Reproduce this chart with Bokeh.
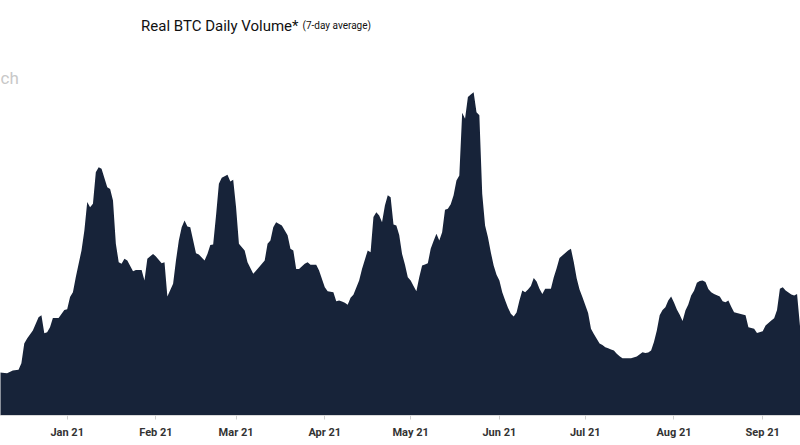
from datetime import datetime, timedelta

from bokeh.plotting import figure
from bokeh.models import ColumnDataSource, Range1d, FixedTicker, DatetimeTickFormatter, Label
from bokeh.embed import file_html
from bokeh.resources import INLINE

# ---- data (7-day average of real BTC daily volume; arbitrary units ~ $B) ----
dec_days = [8, 11, 13, 15, 16, 17, 18, 20, 22, 23, 24, 25, 26, 27, 29, 30, 31]
dec_vals = [1.35, 1.32, 1.41, 1.43, 1.63, 2.25, 2.41, 2.66, 3.07, 3.13, 2.57, 2.60, 2.76, 3.05, 3.05, 3.17, 3.30]

jan_days = [1, 2, 3, 4, 6, 7, 8, 9, 10, 11, 12, 13, 15, 16, 17, 18, 19, 20, 21, 22, 24, 25, 27, 28, 29, 31]
jan_vals = [3.32, 3.70, 3.85, 4.32, 5.16, 5.78, 6.67, 6.51, 6.62, 7.60, 7.76, 7.71, 7.13, 7.08, 6.72, 5.37,
            4.79, 4.74, 4.90, 4.84, 4.51, 4.55, 4.55, 4.22, 4.90, 5.05]

feb_days = [1, 3, 4, 5, 7, 8, 9, 10, 11, 12, 13, 15, 16, 18, 19, 20, 21, 22, 23, 24, 25, 26, 27, 28]
feb_vals = [4.97, 4.76, 4.79, 3.72, 4.12, 4.84, 5.47, 5.88, 6.09, 5.91, 5.88, 5.07, 5.03, 4.84, 5.05, 5.33,
            5.34, 6.25, 7.24, 7.43, 7.48, 7.52, 7.31, 7.37]

mar_days = [1, 2, 4, 5, 7, 9, 11, 12, 13, 14, 15, 17, 19, 20, 21, 22, 23, 25, 26, 27, 29, 30]
mar_vals = [6.51, 5.37, 5.16, 4.79, 4.43, 4.63, 4.84, 5.37, 5.47, 5.88, 6.04, 5.94, 5.63, 5.21, 5.16, 4.58,
            4.58, 4.74, 4.79, 4.71, 4.71, 4.53]

apr_days = [1, 2, 4, 5, 6, 7, 8, 9, 10, 11, 13, 14, 16, 17, 18, 19, 20, 21, 22, 23, 24, 25, 26, 27, 28, 29, 30]
apr_vals = [4.01, 3.88, 3.85, 3.57, 3.59, 3.56, 3.52, 3.46, 3.68, 3.77, 4.22, 4.58, 5.16, 5.10, 6.20, 6.35,
            6.25, 6.04, 6.56, 6.88, 6.82, 5.97, 5.94, 5.64, 5.05, 4.72, 4.32]

may_days = list(range(1, 32))
may_vals = [4.22, 4.05, 3.88, 4.32, 4.69, 4.72, 4.76, 5.21, 5.45, 5.68,
            5.47, 5.73, 6.43, 6.46, 6.60, 6.88, 7.34, 7.50, 9.46, 9.27,
            9.95, 10.03, 10.10, 9.48, 9.38, 6.93, 5.94, 5.57, 5.10, 4.69, 4.40]

jun_days = list(range(1, 31))
jun_vals = [4.22, 3.85, 3.60, 3.37, 3.18, 3.09, 3.22, 3.59, 3.91, 3.85,
            3.94, 4.05, 4.30, 4.19, 3.96, 3.80, 3.96, 3.96, 3.96, 4.32,
            4.60, 4.92, 5.00, 5.08, 5.16, 5.21, 4.79, 4.29, 3.94, 3.70]

jul_days = list(range(1, 18)) + [19] + list(range(21, 32))
jul_vals = [3.45, 3.20, 2.71, 2.55, 2.40, 2.25, 2.20, 2.13, 2.10, 2.06, 2.03, 1.93, 1.85, 1.79, 1.79, 1.79, 1.79,
            1.84,
            1.98, 1.95, 1.97, 2.03, 2.30, 2.66, 3.13, 3.30, 3.38, 3.59, 3.72]

aug_days = list(range(1, 16)) + [17, 18, 19, 20, 21, 22, 24, 26, 27, 29, 30]
aug_vals = [3.53, 3.31, 3.15, 2.95, 3.28, 3.47, 3.75, 3.90, 4.15, 4.20, 4.22, 4.17, 3.95, 3.85, 3.80,
            3.72, 3.57, 3.54, 3.59, 3.40, 3.23, 3.18, 3.13, 2.76, 2.71, 2.58]

sep_days = [1, 2, 4, 5, 6, 7, 8, 9, 11, 12, 13, 14, 15]
sep_vals = [2.63, 2.81, 2.97, 3.04, 3.30, 3.96, 4.01, 3.91, 3.78, 3.75, 3.80, 2.81, 2.60]

tick_months = ["2021-01-01", "2021-02-01", "2021-03-01", "2021-04-01", "2021-05-01",
               "2021-06-01", "2021-07-01", "2021-08-01", "2021-09-01"]

# ---- build series ----
parts = [((2020, 12), dec_days, dec_vals), ((2021, 1), jan_days, jan_vals), ((2021, 2), feb_days, feb_vals),
         ((2021, 3), mar_days, mar_vals), ((2021, 4), apr_days, apr_vals), ((2021, 5), may_days, may_vals),
         ((2021, 6), jun_days, jun_vals), ((2021, 7), jul_days, jul_vals), ((2021, 8), aug_days, aug_vals),
         ((2021, 9), sep_days, sep_vals)]
dates, vals = [], []
for (yr, mo), days, vs in parts:
    for d, v in zip(days, vs):
        dates.append(datetime(yr, mo, d))
        vals.append(v)

src = ColumnDataSource(data=dict(date=dates, val=vals))

jan1 = datetime(2021, 1, 1)
x_start = jan1 - timedelta(days=23.3)
x_end = jan1 + timedelta(days=256.2)

p = figure(width=800, height=445, x_axis_type="datetime", y_axis_location=None,
           output_backend="svg", toolbar_location=None,
           x_range=Range1d(x_start, x_end), y_range=Range1d(0, 415 / 32),
           min_border_left=0, min_border_right=0, min_border_top=0, min_border_bottom=30)
p.outline_line_color = None
p.background_fill_color = "white"
p.border_fill_color = "white"
p.grid.visible = False

p.varea(x="date", y1=0, y2="val", source=src, fill_color="#172339")

epoch = datetime(1970, 1, 1)
ticks = [(datetime.strptime(t, "%Y-%m-%d") - epoch).total_seconds() * 1000 for t in tick_months]
ax = p.xaxis[0]
ax.ticker = FixedTicker(ticks=ticks)
ax.formatter = DatetimeTickFormatter(months="%b %y", days="%b %y", years="%b %y")
ax.axis_line_color = "#d9d9d9"
ax.major_tick_line_color = "#cfcfcf"
ax.major_tick_in = 0
ax.major_tick_out = 4
ax.minor_tick_line_color = None
ax.major_label_standoff = 6
ax.major_label_text_font = "Roboto"
ax.major_label_text_font_size = "11px"
ax.major_label_text_font_style = "bold"
ax.major_label_text_color = "#333333"

title = Label(x=298, y=390, x_units="screen", y_units="screen", text="Real BTC Daily Volume*",
              text_font="Roboto", text_font_size="15px", text_color="#111111",
              text_align="right", text_baseline="alphabetic")
subtitle = Label(x=302, y=390, x_units="screen", y_units="screen", text="(7-day average)",
                 text_font="Roboto", text_font_size="10px", text_color="#111111",
                 text_align="left", text_baseline="alphabetic")
mark = Label(x=0, y=338, x_units="screen", y_units="screen", text="ch",
             text_font="Roboto", text_font_size="17px", text_color="#c8c8c8",
             text_align="left", text_baseline="alphabetic")
for lab in (title, subtitle, mark):
    p.add_layout(lab)

open("out.html", "w").write(file_html(p, INLINE))
